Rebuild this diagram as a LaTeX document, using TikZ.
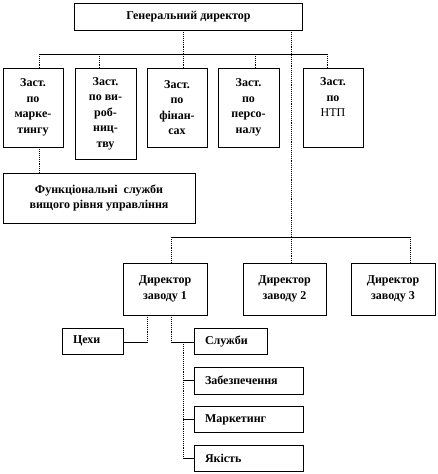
\documentclass[tikz,border=0pt]{standalone}
\usepackage{fontspec}
\setmainfont{Liberation Serif}
\begin{document}
\begin{tikzpicture}[x=1pt,y=-1pt,
  box/.style={draw, line width=0.7pt, rectangle, inner sep=0pt, align=center,
    font=\fontsize{12}{15.5}\selectfont\bfseries, fill=white},
  lbox/.style={box, align=left, inner xsep=11pt},
  vline/.style={densely dotted, line width=0.9pt},
  hline/.style={line width=0.7pt}]
\useasboundingbox (0,0) rectangle (438,474);

% top
\node[box, minimum width=228pt, minimum height=27pt] (gen) at (188.5,16.5) {Генеральний директор};

% deputies
\node[box, minimum width=60pt, minimum height=79pt] (dm) at (33,107.5) {Заст.\\по\\марке-\\тингу};
\node[box, minimum width=61pt, minimum height=91pt] (dv) at (105.5,113.5) {Заст.\\по ви-\\роб-\\ниц-\\тву};
\node[box, minimum width=60pt, minimum height=79pt] (df) at (177,107.5) {Заст.\\по\\фінан-\\сах};
\node[box, minimum width=61pt, minimum height=79pt] (dp) at (248.5,107.5) {Заст.\\по\\персо-\\налу};
\node[box, minimum width=60pt, minimum height=79pt] (dn) at (333,107.5) {Заст.\\по\\\mdseries НТП\\\strut};

% functional services
\node[box, minimum width=192pt, minimum height=50pt] (func) at (99,198) {Функціональні\ \ служби\\вищого рівня управління};

% plant directors
\node[box, minimum width=84pt, minimum height=52pt] (p1) at (165,289) {Директор\\заводу 1};
\node[box, minimum width=83pt, minimum height=52pt] (p2) at (284.5,289) {Директор\\заводу 2};
\node[box, minimum width=84pt, minimum height=52pt] (p3) at (393,289) {Директор\\заводу 3};

% plant 1 units
\node[lbox, text width=39pt, minimum height=26pt] (ceh) at (92.5,341) {Цехи};
\node[lbox, text width=51pt, minimum height=26pt] (sl) at (230.5,341) {Служби};
\node[lbox, text width=87pt, minimum height=27pt] (zab) at (248.5,380.5) {Забезпечення};
\node[lbox, text width=87pt, minimum height=26pt] (mar) at (248.5,419.5) {Маркетинг};
\node[lbox, text width=87pt, minimum height=26pt] (yak) at (248.5,458.5) {Якість};

% top bus
\coordinate (t1) at (39,54);
\coordinate (t2) at (99,54);
\coordinate (t3) at (183,54);
\coordinate (t4) at (255,54);
\coordinate (t5) at (327,54);
\coordinate (g2) at (291,54);
\draw[hline] (t1) -- (t5);
\draw[vline] (gen.south -| t3) -- (t3);
\draw[vline] (t1) -- (t1 |- dm.north);
\draw[vline] (t2) -- (t2 |- dv.north);
\draw[vline] (t3) -- (t3 |- df.north);
\draw[vline] (t4) -- (t4 |- dp.north);
\draw[vline] (t5) -- (t5 |- dn.north);
\draw[vline] (dm.south -| t1) -- (func.north -| t1);

% plant bus
\coordinate (q1) at (171,237);
\coordinate (q3) at (410,237);
\draw[vline] (gen.south -| g2) -- (p2.north -| g2);
\draw[hline] (q1) -- (q3);
\draw[vline] (q1) -- (q1 |- p1.north);
\draw[vline] (q3) -- (q3 |- p3.north);

% plant 1 tree
\coordinate (c1) at (147,342);
\coordinate (c2) at (171,342);
\coordinate (c3) at (183,342);
\draw[vline] (p1.south -| c1) -- (c1);
\draw[hline] (c1) -- (ceh.east |- c1);
\draw[vline] (p1.south -| c2) -- (c2);
\draw[hline] (c2) -- (sl.west |- c2);
\draw[vline] (c3) -- (c3 |- yak.west);
\draw[hline] (c3 |- zab.west) -- (zab.west);
\draw[hline] (c3 |- mar.west) -- (mar.west);
\draw[hline] (c3 |- yak.west) -- (yak.west);
\end{tikzpicture}
\end{document}
